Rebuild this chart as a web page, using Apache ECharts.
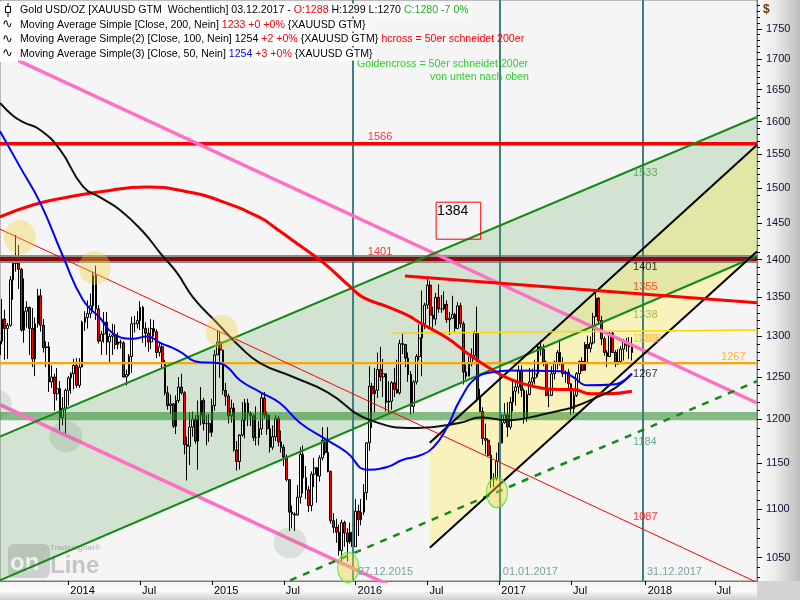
<!DOCTYPE html>
<html><head><meta charset="utf-8">
<script src="https://cdn.jsdelivr.net/npm/echarts@6/dist/echarts.min.js"></script>
<style>html,body{margin:0;padding:0;background:#fff}#c{width:800px;height:600px}</style>
</head><body><div id="c"></div>
<script>
// ---------- DATA ----------
const firstWeek = '2013-07-14';            // weekly bars, Sunday-dated
// [open, high, low, close]
const ohlc2013 = [
[1277,1298,1262,1294],[1294,1348,1290,1322],[1322,1334,1271,1310],[1310,1317,1272,1314],[1314,1378,1312,1373],
[1373,1399,1347,1395],[1395,1434,1384,1396],[1396,1420,1361,1387],[1387,1389,1306,1308],[1308,1375,1292,1332],
[1332,1345,1311,1337],[1337,1338,1277,1310],[1310,1336,1262,1272],[1272,1324,1251,1316],[1316,1361,1311,1352],
[1352,1361,1306,1314],[1314,1322,1280,1286],[1286,1294,1262,1287],[1287,1293,1232,1244],[1244,1264,1237,1250],
[1250,1254,1210,1230],[1230,1261,1222,1236],[1236,1245,1187,1202],[1202,1226,1193,1213],[1213,1236,1182,1234]];
const ohlc2014 = [
[1234,1251,1216,1249],[1249,1256,1230,1254],[1254,1272,1235,1264],[1264,1273,1237,1240],[1240,1273,1237,1262],
[1262,1320,1262,1318],[1318,1332,1307,1324],[1324,1346,1310,1329],[1329,1355,1323,1339],[1339,1384,1333,1379],
[1379,1392,1321,1335],[1335,1340,1291,1294],[1294,1307,1277,1303],[1303,1331,1292,1318],[1318,1331,1277,1293],
[1293,1304,1268,1300],[1300,1316,1277,1302],[1302,1315,1284,1290],[1290,1305,1284,1293],[1293,1296,1285,1292],
[1292,1294,1251,1250],[1250,1259,1240,1253],[1253,1278,1251,1275],[1275,1325,1255,1316],[1316,1326,1305,1316],
[1316,1332,1310,1320],[1320,1345,1308,1337],[1337,1339,1292,1310],[1310,1318,1287,1304],[1304,1311,1281,1293],
[1293,1322,1284,1310],[1310,1321,1300,1306],[1306,1309,1273,1280],[1280,1293,1275,1287],[1287,1292,1261,1268],
[1268,1271,1228,1231],[1231,1239,1211,1216],[1216,1229,1206,1218],[1218,1219,1190,1192],[1192,1228,1183,1222],
[1222,1250,1219,1238],[1238,1254,1229,1231],[1231,1233,1160,1171],[1171,1180,1131,1169],[1169,1208,1148,1191],
[1191,1209,1180,1200],[1200,1205,1172,1175],[1175,1222,1143,1205],[1205,1238,1193,1222],[1222,1225,1187,1195],
[1195,1205,1170,1195],[1195,1206,1174,1185]];
const ohlc2015 = [
[1185,1224,1180,1216],[1216,1283,1210,1277],[1277,1307,1277,1293],[1293,1307,1249,1283],[1283,1283,1229,1234],
[1234,1243,1216,1227],[1227,1230,1195,1204],[1204,1223,1196,1213],[1213,1219,1163,1165],[1165,1175,1142,1152],
[1152,1181,1143,1182],[1182,1220,1180,1199],[1199,1224,1178,1219],[1219,1224,1192,1207],[1207,1209,1192,1204],
[1204,1206,1175,1179],[1179,1215,1170,1179],[1179,1198,1170,1189],[1189,1232,1182,1225],[1225,1232,1201,1205],
[1205,1209,1182,1189],[1189,1205,1162,1168],[1168,1193,1165,1180],[1180,1205,1175,1201],[1201,1204,1169,1174],
[1174,1187,1162,1168],[1168,1171,1147,1157],[1157,1160,1130,1132],[1132,1132,1077,1097],[1097,1104,1080,1095],
[1095,1097,1077,1094],[1094,1126,1093,1113],[1113,1168,1106,1160],[1160,1170,1117,1134],[1134,1147,1111,1121],
[1121,1125,1097,1104],[1104,1141,1098,1138],[1138,1156,1124,1145],[1145,1146,1107,1136],[1136,1159,1130,1156],
[1156,1191,1153,1176],[1176,1178,1159,1162],[1162,1191,1140,1141],[1141,1142,1085,1088],[1088,1096,1075,1081],
[1081,1090,1065,1076],[1076,1084,1052,1057],[1057,1089,1046,1086],[1086,1088,1061,1075],[1075,1080,1046,1066],
[1066,1086,1064,1076],[1076,1083,1047,1061]];
const ohlc2016 = [
[1061,1111,1061,1098],[1098,1105,1072,1089],[1089,1111,1083,1097],[1097,1127,1094,1118],[1118,1174,1110,1173],
[1173,1263,1164,1239],[1239,1243,1190,1230],[1230,1261,1208,1234],[1234,1280,1225,1259],[1259,1287,1245,1250],
[1250,1272,1226,1254],[1254,1255,1209,1220],[1220,1245,1207,1221],[1221,1245,1211,1243],[1243,1261,1226,1235],
[1235,1271,1230,1231],[1231,1296,1229,1291],[1291,1304,1278,1290],[1290,1290,1262,1273],[1273,1280,1244,1253],
[1253,1257,1205,1215],[1215,1246,1207,1244],[1244,1278,1241,1275],[1275,1315,1270,1298],[1298,1359,1251,1316],
[1316,1343,1309,1340],[1340,1375,1335,1366],[1366,1372,1310,1327],[1327,1338,1311,1322],[1322,1356,1314,1350],
[1350,1367,1330,1335],[1335,1353,1330,1335],[1335,1358,1333,1341],[1341,1346,1317,1321],[1321,1331,1302,1323],
[1323,1352,1323,1328],[1328,1330,1306,1310],[1310,1344,1309,1339],[1339,1343,1311,1316],[1316,1319,1241,1256],
[1256,1265,1247,1251],[1251,1275,1254,1266],[1266,1285,1263,1276],[1276,1307,1271,1304],[1304,1338,1220,1225],
[1225,1236,1211,1209],[1209,1214,1171,1178],[1178,1195,1160,1176],[1176,1178,1158,1159],[1159,1170,1123,1133],
[1133,1139,1124,1133],[1133,1162,1131,1152]];
const ohlc2017 = [
[1152,1184,1147,1173],[1173,1206,1172,1196],[1196,1219,1195,1205],[1205,1220,1180,1191],[1191,1226,1188,1220],
[1220,1245,1209,1233],[1233,1244,1216,1238],[1238,1264,1230,1257],[1257,1264,1226,1234],[1234,1236,1195,1202],
[1202,1234,1197,1229],[1229,1261,1228,1244],[1244,1260,1240,1249],[1249,1271,1241,1254],[1254,1291,1250,1287],
[1287,1295,1276,1284],[1284,1290,1263,1268],[1268,1270,1227,1228],[1228,1236,1214,1228],[1228,1263,1227,1254],
[1254,1270,1247,1268],[1268,1283,1259,1280],[1280,1296,1264,1266],[1266,1274,1250,1254],[1254,1258,1243,1256],
[1256,1260,1236,1242],[1242,1242,1205,1212],[1212,1234,1207,1228],[1228,1256,1226,1254],[1254,1270,1243,1269],
[1269,1274,1257,1258],[1258,1293,1258,1290],[1290,1301,1267,1285],[1285,1300,1280,1292],[1292,1330,1290,1325],
[1325,1357,1325,1349],[1349,1350,1315,1320],[1320,1326,1289,1297],[1297,1300,1276,1280],[1280,1283,1262,1275],
[1275,1306,1275,1304],[1304,1306,1280,1280],[1280,1283,1262,1266],[1266,1284,1265,1269],[1269,1288,1266,1284],
[1284,1297,1270,1293],[1293,1298,1281,1289],[1289,1299,1272,1287],[1288,1299,1270,1280]];

const ma200 = [['2013-07-16',1459],['2013-10-07',1476],['2014-01-02',1487],['2014-03-27',1495],['2014-07-23',1502],
['2014-11-02',1495],['2015-01-25',1482],['2015-05-06',1458],['2015-06-13',1444],['2015-07-26',1427],['2015-10-13',1396],
['2015-12-20',1364],['2016-01-22',1350],['2016-03-23',1338],['2016-05-13',1327],['2016-06-15',1317],['2016-08-22',1298],
['2016-10-12',1279],['2016-11-14',1268],['2016-12-17',1258],['2017-01-21',1249],['2017-02-23',1243],['2017-04-15',1237],
['2017-06-04',1235],['2017-07-07',1235],['2017-08-20',1230],['2017-10-02',1230],['2017-12-03',1233]];
const ma100 = [['2013-07-16',1629],['2013-08-18',1609],['2013-09-13',1599],['2013-10-26',1587],['2013-12-15',1557],
['2014-02-12',1502],['2014-03-27',1487],['2014-05-16',1469],['2014-07-14',1438],['2014-08-26',1409],['2014-10-08',1382],
['2014-11-17',1350],['2015-01-17',1317],['2015-03-16',1287],['2015-05-06',1267],['2015-07-29',1250],['2015-10-23',1232],
['2016-02-09',1199],['2016-06-07',1190],['2016-09-24',1196],['2016-11-14',1202],['2017-01-21',1199],['2017-02-23',1200],
['2017-04-15',1205],['2017-06-12',1211],['2017-07-07',1214],['2017-09-06',1226],['2017-10-22',1237],['2017-12-03',1254]];
const ma50 = [['2013-07-16',1585],['2013-09-05',1531],['2013-10-26',1479],['2013-12-23',1404],['2014-02-11',1347],
['2014-03-27',1323],['2014-04-28',1304],['2014-06-18',1297],['2014-07-23',1300],['2014-08-26',1292],['2014-10-08',1283],
['2014-12-05',1268],['2015-01-17',1267],['2015-02-12',1262],['2015-03-16',1246],['2015-05-06',1232],['2015-06-25',1219],
['2015-08-15',1196],['2015-10-23',1176],['2015-12-12',1162],['2016-02-01',1143],['2016-03-23',1146],['2016-05-02',1154],
['2016-06-15',1159],['2016-07-18',1168],['2016-08-22',1191],['2016-09-24',1223],['2016-11-06',1250],['2016-12-17',1256],
['2017-01-29',1258],['2017-06-04',1257],['2017-07-07',1250],['2017-08-12',1240],['2017-10-17',1241],['2017-12-03',1254]];

const levels = { r1566: 1566, r1401: 1401, o1267: 1267 };
const greenBand = [1199, 1208.5];
const pinkUpper = [['2013-07-16',1711],['2018-10-16',1219]];
const pinkLower = [['2013-07-16',1217],['2018-10-16',867]];
const greenUpper = [['2013-07-16',1180],['2018-10-16',1607]];
const greenLower = [['2013-07-16',1027],['2018-10-16',1405]];
const blackUpper = [['2016-07-09',1173],['2018-10-16',1564]];
const blackLower = [['2016-07-09',1060],['2018-10-16',1411]];
const greenDashed = [['2015-07-21',1027],['2018-10-16',1245]];
const redThin = [['2013-07-16',1442],['2018-10-16',1025]];
const redResist = [['2016-05-07',1378],['2018-10-16',1343]];
const yellowLine = [['2016-04-04',1304],['2018-10-16',1308]];
const markerDates = ['2015-12-27','2017-01-01','2017-12-31'];
const yellowCircles = [['2013-09-04',1431],['2014-03-13',1389],['2015-01-29',1306]];
const grayCircles = [['2013-07-04',1217],['2013-12-30',1180],['2015-07-21',1065]];
const greenEllipses = [['2015-12-15',1040],['2016-12-26',1118]];
const box1384 = [['2016-07-25',1480],['2016-11-15',1428]];
const boxText = '1384';
const levelLabels = [
 ['2016-02-03',1576,'1566'],['2016-02-03',1410,'1401'],['2017-12-06',1522,'1533'],['2017-12-06',1390,'1401'],
 ['2017-12-06',1364,'1355'],['2017-12-06',1327,'1338'],['2017-12-06',1297,'1309'],['2017-12-16',1297,'1308'],
 ['2017-12-06',1254,'1267'],['2018-07-17',1274,'1267'],['2017-12-06',1174,'1184'],['2017-12-06',1092,'1087'],
 ['2016-01-09',1035,'27.12.2015'],['2017-01-10',1035,'01.01.2017'],['2018-01-10',1035,'31.12.2017']];
const yTickLabels = [1050,1100,1150,1200,1250,1300,1350,1400,1450,1500,1550,1600,1650,1700,1750];
const yMinorTicks = [1030,1040,1050,1060,1070,1080,1090,1100,1110,1120,1130,1140,1150,1160,1170,1180,1190,1200,1210,1220,1230,1240,1250,1260,1270,1280,1290,1300,1310,1320,1330,1340,1350,1360,1370,1380,1390,1400,1410,1420,1430,1440,1450,1460,1470,1480,1490,1500,1510,1520,1530,1540,1550,1560,1570,1580,1590,1600,1610,1620,1630,1640,1650,1660,1670,1680,1690,1700,1710,1720,1730,1740,1750,1760,1770,1780,1790];
const xTickDates = ['2014-01-05','2014-07-06','2015-01-04','2015-07-05','2016-01-03','2016-07-03','2017-01-01','2017-07-02','2018-01-07','2018-07-01'];
const xTickLabels = ['2014','Jul','2015','Jul','2016','Jul','2017','Jul','2018','Jul'];

// ---------- BUILD ----------
const U = s => { const [y,m,d] = s.split('-').map(Number); return Date.UTC(y, m-1, d); };
const X_MIN = U('2013-07-16'), X_MAX = U('2018-10-16');
const Y_MIN = 1026.4, Y_MAX = 1799.3;
const DAY = 864e5;
const weeks = [].concat(ohlc2013, ohlc2014, ohlc2015, ohlc2016, ohlc2017);
const t0 = U(firstWeek);
const candleData = weeks.map((r, i) => [t0 + i*7*DAY, r[0], r[3], r[2], r[1]]);
const P = arr => arr.map(p => [U(p[0]), p[1]]);
const xTickTimes = xTickDates.map(U);
const FONT = 'Liberation Sans, Arial, sans-serif';
const SMALL = '10.6px ' + FONT;

function seg(name, pts, color, width, z, type) {
  return { type:'line', name, data:P(pts), symbol:'none', silent:true, z, animation:false,
    lineStyle:{ color, width, type: type || 'solid' } };
}
function hline(name, v, color, width, z) {
  return seg(name, [['2013-07-16', v], ['2018-10-16', v]], color, width, z);
}
function poly(name, pts, fill, z) {
  const d = P(pts);
  return { type:'custom', name, z, silent:true, clip:true, animation:false,
    encode:{x:0, y:1}, data:[d[0]],
    renderItem: (params, api) => ({ type:'polygon', shape:{ points: d.map(p => api.coord(p)) }, style:{ fill } }) };
}
function circles(name, pts, size, color, border, z) {
  return { type:'scatter', name, z, silent:true, clip:false, animation:false,
    data: P(pts), symbol:'circle', symbolSize:size,
    itemStyle:{ color, borderColor: border || 'transparent', borderWidth: border ? 1.2 : 0 } };
}

const labelColors = {'1566':'#ff0000','1533':'#4e9a3c','1355':'#ff2a00','1338':'#93ad2c','1309':'#f2d000','1308':'#ffab6a','1184':'#3e9c6a','1087':'#ff0000'};
const labelData = levelLabels.map((l, i) => {
  let c = labelColors[l[2]] || '#000';
  if (l[2] === '1401' && i === 1) c = '#ff0000';
  if (l[2] === '1267' && i === 9) c = '#ffa500';
  if (l[2].indexOf('.') > 0) c = '#5b8c8c';
  return { value:[U(l[0]), l[1]], name:l[2], label:{ color:c } };
});

const series = [
  poly('greenChannel', [greenUpper[0], greenUpper[1], greenLower[1], greenLower[0]], 'rgba(40,140,40,0.17)', 1),
  poly('yellowChannel', [blackUpper[0], blackUpper[1], blackLower[1], blackLower[0]], 'rgba(255,238,90,0.36)', 1),
  { type:'candlestick', name:'Gold', z:3, animation:false, encode:{x:0, y:[1,2,3,4]}, data:candleData, barWidth:2.2,
    itemStyle:{ color:'rgba(255,255,255,0.5)', color0:'#ff0000', borderColor:'#000', borderColor0:'#000', borderWidth:1 },
    markLine:{ silent:true, symbol:'none', label:{show:false}, animation:false,
      lineStyle:{ color:'#3f7f80', width:2, type:'solid' },
      data: markerDates.map(d => ({ xAxis: U(d) })) } },
  poly('greenBand', [['2013-07-16',greenBand[1]],['2018-10-16',greenBand[1]],['2018-10-16',greenBand[0]],['2013-07-16',greenBand[0]]], 'rgba(40,140,40,0.55)', 4),
  hline('1401band', levels.r1401, '#8c8c8c', 8, 4),
  hline('1401', levels.r1401, '#8b0b0b', 4, 5),
  hline('1566', levels.r1566, '#ff0000', 3.5, 5),
  hline('1267', levels.o1267, '#ffa500', 2.3, 5),
  seg('pinkUpper', pinkUpper, '#ff70c4', 3.5, 5),
  seg('pinkLower', pinkLower, '#ff70c4', 3.5, 5),
  seg('greenUpper', greenUpper, '#138a13', 2, 5),
  seg('greenLower', greenLower, '#138a13', 2, 5),
  seg('greenDashed', greenDashed, '#138a13', 2.5, 5, [7,7]),
  seg('blackUpper', blackUpper, '#000', 2, 5),
  seg('blackLower', blackLower, '#000', 2, 5),
  seg('redThin', redThin, '#ff0000', 1, 5),
  seg('redResist', redResist, '#ff0000', 3, 5),
  seg('yellowLine', yellowLine, '#ffd400', 1.5, 5),
  { type:'line', name:'MA200', data:P(ma200), smooth:true, symbol:'none', silent:true, z:6, animation:false, lineStyle:{color:'#ff0000', width:3} },
  { type:'line', name:'MA100', data:P(ma100), smooth:true, symbol:'none', silent:true, z:6, animation:false, lineStyle:{color:'#111', width:2} },
  { type:'line', name:'MA50', data:P(ma50), smooth:true, symbol:'none', silent:true, z:6, animation:false, lineStyle:{color:'#0000ff', width:2} },
  circles('yellowCircles', yellowCircles, [32,34], 'rgba(240,210,60,0.45)', null, 7),
  circles('grayCircles', grayCircles, [33,31], 'rgba(110,140,110,0.25)', null, 7),
  circles('greenEllipses', greenEllipses, [21,30], 'rgba(240,215,60,0.55)', '#33ee33', 7),
  { type:'custom', name:'box', z:7, silent:true, animation:false, encode:{x:0,y:1}, data:[P(box1384)[0]],
    renderItem: (params, api) => {
      const b = P(box1384); const a = api.coord(b[0]), c = api.coord(b[1]);
      return { type:'group', children:[
        { type:'rect', shape:{ x:a[0], y:a[1], width:c[0]-a[0], height:c[1]-a[1] }, style:{ fill:'none', stroke:'#ff0000', lineWidth:1 } },
        { type:'text', x:a[0]+1, y:a[1]+2, style:{ text: boxText, fill:'#000', font:'14px ' + FONT, align:'left', verticalAlign:'top' } } ] };
    } },
  { type:'scatter', name:'labels', z:8, silent:true, clip:false, animation:false, data:labelData, symbolSize:0,
    label:{ show:true, position:'right', distance:0, formatter:'{b}', fontSize:11, fontFamily:FONT } }
];

const chart = echarts.init(document.getElementById('c'), null, { renderer:'canvas' });
const lg = (y, parts) => ({
  type:'text', x:18, y, z:100, silent:true,
  style:{ text: parts.map(p => '{' + p[0] + '|' + p[1] + '}').join(''),
    rich:{ k:{fill:'#000'}, r:{fill:'#ff0000'}, g:{fill:'#1cb01c'}, b:{fill:'#0000ff'} },
    font:SMALL, verticalAlign:'middle', align:'left',
    backgroundColor:'#fff', padding:[1,3,1,2] } });

chart.setOption({
  animation:false,
  backgroundColor:'#fff',
  grid:{ left:0, top:0, right:43, bottom:19, show:true, backgroundColor:'#f5f5f5', borderColor:'#808080', borderWidth:1 },
  xAxis:{ type:'value', min:X_MIN, max:X_MAX, splitLine:{show:false},
    axisLine:{ lineStyle:{ color:'#7a7a7a', width:1 } },
    axisTick:{ show:true, customValues:xTickTimes, length:4, lineStyle:{ color:'#000' } },
    axisLabel:{ customValues:xTickTimes, align:'left', margin:4, padding:[0,0,0,2], color:'#000', fontSize:11, fontFamily:FONT,
      formatter: v => xTickLabels[xTickTimes.indexOf(v)] || '' } },
  yAxis:[
    { type:'log', logBase:10, position:'right', min:Y_MIN, max:Y_MAX, splitLine:{show:false},
      axisLine:{ show:true, lineStyle:{ color:'#7a7a7a' } },
      axisTick:{ show:true, customValues:yTickLabels, length:5, lineStyle:{ color:'#000' } },
      axisLabel:{ customValues:yTickLabels, margin:9, color:'#101030', fontSize:11, fontFamily:FONT, formatter: v => String(Math.round(v)) } },
    { type:'log', logBase:10, position:'right', min:Y_MIN, max:Y_MAX, splitLine:{show:false},
      axisLine:{ show:false }, axisLabel:{ show:false },
      axisTick:{ show:true, customValues:yMinorTicks, length:3, lineStyle:{ color:'#000' } } }
  ],
  series,
  graphic:[
    { type:'rect', z:-10, silent:true, shape:{ x:757, y:0, width:43, height:581 },
      style:{ fill: new echarts.graphic.LinearGradient(0,0,1,0,[{offset:0,color:'#fafafa'},{offset:0.4,color:'#ededed'},{offset:1,color:'#bdbdbd'}]) } },
    { type:'rect', z:-10, silent:true, shape:{ x:0, y:581, width:757, height:19 },
      style:{ fill: new echarts.graphic.LinearGradient(0,0,0,1,[{offset:0,color:'#f2f2f2'},{offset:0.5,color:'#fbfbfb'},{offset:1,color:'#cfcfcf'}]) } },
    { type:'rect', z:-9, silent:true, shape:{ x:757, y:581, width:43, height:19 }, style:{ fill:'#d4d4d4' } },
    { type:'text', x:763, y:10, z:50, silent:true, style:{ text:'$', fill:'#6a3a10', font:'bold 12px ' + FONT, verticalAlign:'middle' } },
    { type:'rect', x:8, y:544, z:2, silent:true, shape:{ width:42, height:34, r:6 }, style:{ fill:'rgba(140,140,140,0.35)' } },
    { type:'text', x:10, y:563, z:2, silent:true, style:{ text:'on', fill:'rgba(255,255,255,0.75)', font:'bold 24px ' + FONT, verticalAlign:'middle' } },
    { type:'text', x:50, y:566, z:2, silent:true, style:{ text:'Line', fill:'rgba(140,140,140,0.45)', font:'bold 24px ' + FONT, verticalAlign:'middle' } },
    { type:'text', x:50, y:548, z:2, silent:true, style:{ text:'Tradesignal®', fill:'rgba(140,140,140,0.5)', font:'bold 8px ' + FONT, verticalAlign:'middle' } },
    { type:'text', x:359, y:39, z:90, silent:true, style:{ text:'Deathcross = 50er schneidet 200er', fill:'#ff0000', font:SMALL, verticalAlign:'middle' } },
    { type:'text', x:357, y:64, z:90, silent:true, style:{ text:'Goldencross = 50er schneidet 200er', fill:'#33cc33', font:SMALL, verticalAlign:'middle' } },
    { type:'text', x:430, y:77, z:90, silent:true, style:{ text:'von unten nach oben', fill:'#33cc33', font:SMALL, verticalAlign:'middle' } },
    lg(10, [['k','Gold USD/OZ [XAUUSD GTM  Wöchentlich] 03.12.2017 - '],['r','O:1288'],['k',' H:1299 L:1270 '],['g','C:1280 -7 0%']]),
    lg(25, [['k','Moving Average Simple [Close, 200, Nein] '],['r','1233 +0 +0%'],['k',' {XAUUSD GTM}']]),
    lg(39.5, [['k','Moving Average Simple(2) [Close, 100, Nein] 1254 '],['r','+2 +0%'],['k',' {XAUUSD GTM}']]),
    lg(54, [['k','Moving Average Simple(3) [Close, 50, Nein] '],['b','1254'],['r',' +3 +0%'],['k',' {XAUUSD GTM}']]),
    { type:'rect', z:99, silent:true, shape:{ x:0, y:2, width:18, height:60 }, style:{ fill:'#fff' } },
    { type:'line', z:101, silent:true, shape:{ x1:8, y1:3, x2:8, y2:17 }, style:{ stroke:'#000', lineWidth:1 } },
    { type:'rect', z:101, silent:true, shape:{ x:5.5, y:6.5, width:5, height:6 }, style:{ fill:'#fff', stroke:'#000', lineWidth:1 } },
    { type:'text', x:2, y:25, z:101, silent:true, style:{ text:'∿', fill:'#000', font:'13px DejaVu Sans', verticalAlign:'middle' } },
    { type:'text', x:2, y:39.5, z:101, silent:true, style:{ text:'∿', fill:'#000', font:'13px DejaVu Sans', verticalAlign:'middle' } },
    { type:'text', x:2, y:54, z:101, silent:true, style:{ text:'∿', fill:'#000', font:'13px DejaVu Sans', verticalAlign:'middle' } }
  ]
});
</script></body></html>
